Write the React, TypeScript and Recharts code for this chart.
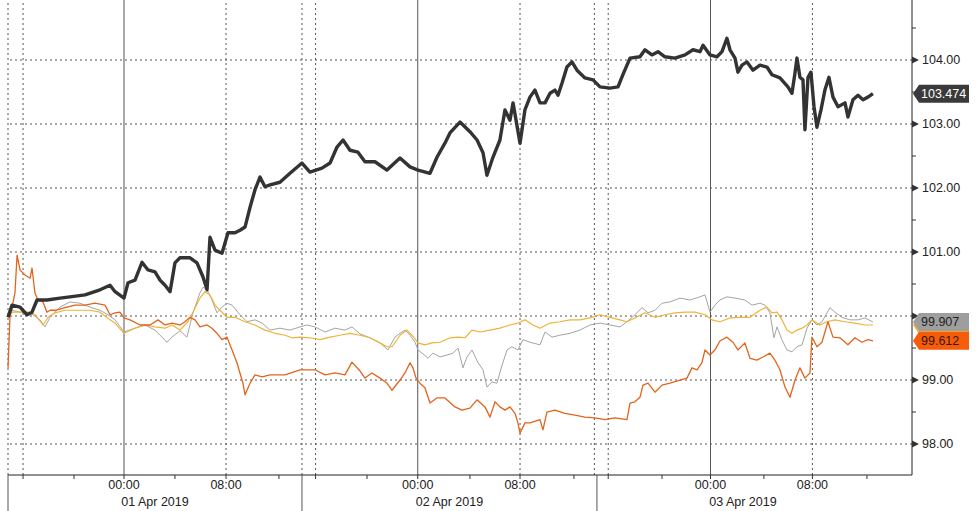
import React from 'react';
import { LineChart, Line, XAxis, YAxis, ReferenceLine } from 'recharts';

// x = session time in hours from 00:00 on 01 Apr 2019 (tick-time axis, spacing is a bit uneven)
const blackHours = [
  -9.47, -9.14, -8.49, -7.92, -7.51, -7.1, -6.29, -5.22, -4.41, -3.18,
  -1.96, -1.14, -0.73, 0, 0.33, 0.9, 1.47, 1.96, 2.53, 2.94,
  3.35, 3.76, 4.16, 4.57, 5.39, 5.96, 6.45, 6.78, 7.02, 7.43,
  8.0, 8.49, 9.06, 9.47, 9.88, 10.29, 10.69, 11.1, 11.51, 11.92,
  12.73, 13.55, 14.53, 15.18, 16.16, 16.82, 17.39, 17.88, 18.45, 19.1,
  19.67, 20.49, 21.47, 22.53, 23.35, 24.0, 24.98, 25.55, 26.2, 26.61,
  27.43, 28.24, 28.82, 29.31, 29.63, 30.12, 30.69, 31.1, 31.51, 31.76,
  32.33, 32.73, 33.14, 33.55, 33.96, 34.37, 34.78, 35.18, 35.43, 35.76,
  36.16, 36.57, 36.98, 37.63, 38.29, 38.86, 39.67, 40.33, 40.73, 41.31,
  42.12, 42.53, 43.1, 43.59, 44.16, 44.98, 45.8, 46.45, 47.02, 47.27,
  47.84, 48.41, 48.82, 49.22, 49.47, 49.88, 50.12, 50.45, 50.86, 51.35,
  51.92, 52.49, 52.9, 53.55, 54.2, 54.53, 54.78, 54.94, 55.18, 55.43,
  55.59, 55.84, 56.08, 56.33, 56.57, 56.9, 57.22, 57.55, 57.88, 58.29,
  58.86, 59.1, 59.51, 59.92, 60.33, 60.73, 61.14,
];
const blackValues = [
  99.98, 100.17, 100.14, 100.02, 100.06, 100.25, 100.25, 100.28, 100.3, 100.33,
  100.41, 100.48, 100.38, 100.28, 100.52, 100.56, 100.84, 100.72, 100.69, 100.56,
  100.48, 100.38, 100.83, 100.91, 100.91, 100.83, 100.61, 100.41, 101.23, 101.03,
  100.98, 101.3, 101.3, 101.34, 101.39, 101.7, 101.97, 102.17, 102.02, 102.05,
  102.09, 102.23, 102.39, 102.25, 102.31, 102.39, 102.64, 102.75, 102.59, 102.56,
  102.41, 102.41, 102.28, 102.47, 102.33, 102.28, 102.23, 102.48, 102.7, 102.86,
  103.03, 102.88, 102.75, 102.55, 102.2, 102.48, 102.75, 103.22, 103.06, 103.33,
  102.7, 103.22, 103.42, 103.53, 103.33, 103.33, 103.48, 103.53, 103.45, 103.64,
  103.89, 103.97, 103.84, 103.72, 103.69, 103.58, 103.56, 103.58, 103.77, 104.03,
  104.05, 104.16, 104.08, 104.13, 104.05, 104.03, 104.08, 104.16, 104.13, 104.23,
  104.08, 104.05, 104.13, 104.34, 104.16, 104.03, 103.81, 103.92, 103.97, 103.84,
  103.92, 103.89, 103.77, 103.72, 103.58, 103.48, 103.8, 104.03, 103.73, 103.69,
  102.91, 103.73, 103.81, 103.27, 102.95, 103.22, 103.53, 103.73, 103.42, 103.27,
  103.33, 103.11, 103.38, 103.45, 103.38, 103.42, 103.474,
];

const orangeHours = [
  -9.47, -9.31, -8.9, -8.73, -8.49, -8.08, -7.67, -7.51, -7.27, -7.02,
  -6.61, -6.29, -6.04, -5.63, -4.82, -4.0, -3.18, -2.37, -1.55, -1.14,
  -0.73, -0.33, 0, 0.49, 1.31, 2.12, 2.78, 3.35, 3.92, 4.57,
  4.98, 5.39, 5.8, 6.2, 6.78, 7.18, 7.59, 8.0, 8.41, 8.82,
  9.22, 9.71, 9.88, 10.29, 10.69, 11.27, 11.92, 13.14, 14.37, 15.59,
  16.41, 17.22, 18.04, 18.61, 19.27, 19.67, 20.24, 20.9, 21.47, 21.88,
  22.53, 22.94, 23.35, 23.59, 23.84, 24.16, 24.57, 24.98, 25.55, 26.2,
  27.02, 27.59, 28.24, 28.82, 29.47, 29.88, 30.29, 30.69, 31.1, 31.51,
  31.92, 32.16, 32.33, 32.73, 33.14, 33.96, 34.2, 34.53, 35.18, 36.0,
  36.82, 37.63, 38.45, 39.27, 40.08, 41.06, 41.31, 41.71, 42.12, 42.37,
  42.78, 43.35, 43.92, 44.57, 45.39, 45.96, 46.37, 46.78, 47.18, 47.43,
  47.84, 48.24, 48.65, 49.22, 49.71, 50.12, 50.69, 51.1, 51.67, 52.16,
  52.73, 53.14, 53.55, 53.96, 54.37, 54.78, 55.18, 55.59, 56.0, 56.16,
  56.57, 56.98, 57.47, 57.88, 58.45, 59.1, 59.67, 60.24, 60.73, 61.14,
];
const orangeValues = [
  99.19, 99.98, 100.36, 100.95, 100.72, 100.64, 100.59, 100.75, 100.36, 100.25,
  100.22, 100.06, 100.09, 100.09, 100.13, 100.17, 100.17, 100.2, 100.17, 100.02,
  100.05, 100.06, 99.97, 99.94, 99.86, 99.86, 99.94, 99.86, 99.89, 99.86,
  99.91, 99.98, 99.94, 99.83, 99.86, 99.81, 99.73, 99.63, 99.67, 99.47,
  99.27, 98.95, 98.77, 98.95, 99.08, 99.05, 99.08, 99.08, 99.16, 99.16,
  99.08, 99.11, 99.08, 99.28, 99.14, 99.03, 99.11, 99.03, 98.95, 98.84,
  99.0, 99.11, 99.27, 99.19, 99.03, 98.95, 98.88, 98.64, 98.72, 98.72,
  98.58, 98.53, 98.56, 98.69, 98.58, 98.42, 98.66, 98.58, 98.53, 98.58,
  98.48, 98.33, 98.17, 98.33, 98.33, 98.38, 98.22, 98.5, 98.53, 98.48,
  98.45, 98.42, 98.41, 98.38, 98.41, 98.38, 98.64, 98.66, 98.73, 98.92,
  98.95, 98.81, 98.92, 98.95, 99.0, 99.03, 99.19, 99.16, 99.27, 99.47,
  99.39, 99.47, 99.61, 99.67, 99.59, 99.47, 99.58, 99.34, 99.31, 99.36,
  99.42, 99.31, 99.16, 98.89, 98.73, 99.0, 99.19, 99.03, 99.11, 99.67,
  99.52, 99.59, 99.91, 99.67, 99.66, 99.55, 99.66, 99.59, 99.63, 99.612,
];

const grayHours = [
  -9.47, -9.14, -8.49, -7.67, -6.86, -6.45, -6.04, -5.22, -4.41, -3.59,
  -2.78, -1.96, -1.31, -0.73, 0, 0.9, 1.71, 2.53, 3.1, 3.51,
  3.92, 4.57, 5.14, 5.63, 6.2, 6.45, 6.78, 7.18, 7.59, 8.0,
  8.41, 8.82, 9.47, 10.04, 10.69, 11.27, 11.92, 12.73, 13.55, 14.37,
  14.94, 15.59, 16.41, 17.22, 18.04, 18.61, 19.27, 20.08, 20.9, 21.55,
  22.12, 22.53, 22.94, 23.35, 23.76, 24.0, 24.33, 24.82, 25.22, 25.8,
  26.37, 26.86, 27.27, 27.67, 28.0, 28.41, 28.9, 29.31, 29.63, 30.04,
  30.45, 30.86, 31.27, 31.67, 32.16, 32.57, 33.14, 33.96, 34.37, 34.94,
  35.59, 36.41, 37.22, 38.04, 38.86, 39.67, 40.49, 41.06, 41.71, 42.29,
  42.78, 43.35, 43.92, 44.57, 45.39, 46.2, 47.02, 47.43, 47.84, 48.24,
  48.65, 49.22, 49.88, 50.69, 51.27, 51.92, 52.33, 52.73, 53.06, 53.31,
  53.71, 54.12, 54.53, 54.94, 55.35, 55.76, 56.16, 56.57, 56.98, 57.63,
  58.04, 58.61, 59.27, 59.92, 60.49, 61.14,
];
const grayValues = [
  99.98, 100.09, 100.06, 100.05, 99.94, 99.83, 99.98, 100.14, 100.22, 100.2,
  100.14, 100.09, 100.02, 99.94, 99.75, 99.81, 99.86, 99.78, 99.67, 99.59,
  99.67, 99.77, 99.67, 100.05, 100.36, 100.45, 100.41, 100.25, 100.05, 100.14,
  100.2, 100.17, 100.02, 99.91, 99.94, 99.89, 99.78, 99.81, 99.78, 99.83,
  99.86, 99.83, 99.75, 99.81, 99.78, 99.83, 99.72, 99.66, 99.58, 99.47,
  99.67, 99.73, 99.78, 99.7, 99.59, 99.47, 99.42, 99.34, 99.42, 99.36,
  99.39, 99.42, 99.5, 99.19, 99.36, 99.47, 99.27, 99.16, 98.89, 98.97,
  98.95, 99.23, 99.47, 99.52, 99.47, 99.63, 99.59, 99.55, 99.75, 99.67,
  99.7, 99.73, 99.78, 99.86, 99.89, 99.86, 99.83, 99.91, 100.02, 100.13,
  100.05, 100.09, 100.2, 100.22, 100.28, 100.25, 100.3, 100.33, 100.06, 100.17,
  100.25, 100.3, 100.28, 100.25, 100.17, 100.2, 100.17, 100.05, 99.66, 99.83,
  99.63, 99.47, 99.44, 99.52, 99.55, 99.81, 99.94, 99.86, 99.91, 100.13,
  100.06, 99.98, 99.94, 99.94, 99.97, 99.907,
];

const yellowHours = [
  -9.47, -9.14, -8.49, -7.67, -7.27, -6.61, -6.2, -5.63, -4.82, -3.59,
  -2.78, -1.96, -1.14, -0.73, 0, 0.9, 1.71, 2.53, 3.35, 3.92,
  4.57, 5.22, 5.63, 6.2, 6.61, 7.02, 7.43, 7.84, 8.41, 9.06,
  9.88, 10.69, 11.51, 12.33, 13.14, 13.71, 14.37, 15.18, 16.0, 16.82,
  17.63, 18.45, 19.27, 20.08, 20.9, 21.47, 21.88, 22.53, 23.1, 23.51,
  24.0, 24.57, 25.14, 25.8, 26.61, 27.27, 27.84, 28.41, 29.06, 29.88,
  30.69, 31.51, 32.16, 32.73, 33.39, 33.96, 34.78, 35.59, 36.41, 37.22,
  38.04, 38.86, 39.67, 40.49, 41.06, 41.71, 42.53, 43.35, 44.16, 44.98,
  45.8, 46.61, 47.43, 48.0, 48.65, 49.47, 50.29, 51.1, 51.92, 52.49,
  52.9, 53.31, 53.71, 54.12, 54.53, 54.94, 55.35, 55.76, 56.16, 56.82,
  57.39, 58.04, 58.86, 59.67, 60.49, 61.14,
];
const yellowValues = [
  99.98, 100.06, 100.06, 100.06, 100.02, 99.86, 99.98, 100.05, 100.09, 100.09,
  100.09, 100.06, 99.94, 99.89, 99.73, 99.81, 99.86, 99.83, 99.81, 99.86,
  99.78, 99.91, 100.06, 100.28, 100.38, 100.33, 100.17, 100.09, 99.98, 99.98,
  99.91, 99.86, 99.78, 99.73, 99.7, 99.66, 99.67, 99.66, 99.63, 99.67,
  99.7, 99.73, 99.7, 99.66, 99.58, 99.52, 99.52, 99.7, 99.78, 99.7,
  99.58, 99.55, 99.58, 99.59, 99.66, 99.67, 99.66, 99.78, 99.75, 99.78,
  99.81, 99.86, 99.89, 99.94, 99.86, 99.81, 99.89, 99.91, 99.94, 99.94,
  99.97, 100.02, 99.98, 99.94, 99.91, 99.97, 100.05, 99.98, 100.02, 100.05,
  100.06, 100.06, 100.02, 99.94, 99.91, 99.97, 99.98, 99.98, 100.09, 100.14,
  100.05, 100.06, 99.94, 99.78, 99.73, 99.78, 99.81, 99.86, 99.94, 99.86,
  99.91, 99.94, 99.91, 99.89, 99.86, 99.86,
];

// axis furniture
const hourTicks = [-8.24, -4.08, 0, 4.16, 8.33, 12.65, 15.64, 19.84, 23.98, 28.24, 32.33, 36.73, 39.53, 43.92, 47.88, 52.24, 56.2, 60.65];
const timeLabelHours = [0, 8.33, 23.98, 32.33, 47.88, 56.2];
const timeLabels = ['00:00', '08:00', '00:00', '08:00', '00:00', '08:00'];
const dayBreakHours = [-9.47, 14.53, 38.61];
const dayLabelHours = [2.53, 26.57, 50.53];
const dayLabels = ['01 Apr 2019', '02 Apr 2019', '03 Apr 2019'];
const midnightHours = [0, 23.98, 47.88];
const dottedHours = [-9.47, -8.24, 8.33, 14.53, 15.64, 32.33, 38.4, 39.53, 56.2];
const priceLevels = [98, 99, 100, 101, 102, 103, 104];
const halfLevels = [98.5, 99.5, 100.5, 101.5, 102.5, 103.5, 104.5];

const FONT = '"Liberation Sans", Arial, sans-serif';

const series = [
  { key: 'gray', hours: grayHours, values: grayValues, color: '#a4a4a4', width: 1, tag: '#9e9e9e', text: '#222', showTag: true },
  { key: 'yellow', hours: yellowHours, values: yellowValues, color: '#efb338', width: 1.2, tag: '#f0b43a', text: '#222', showTag: false },
  { key: 'orange', hours: orangeHours, values: orangeValues, color: '#e2641d', width: 1.3, tag: '#f55d0a', text: '#3a1300', showTag: true },
  { key: 'black', hours: blackHours, values: blackValues, color: '#333333', width: 3.4, tag: '#3a3a3a', text: '#ffffff', showTag: true },
];

const rowMap = new Map<number, any>();
series.forEach((s) => {
  s.hours.forEach((h, i) => {
    const row = rowMap.get(h) ?? { t: h };
    row[s.key] = s.values[i];
    rowMap.set(h, row);
  });
});
const data = Array.from(rowMap.values()).sort((a, b) => a.t - b.t);

// last-value tags, drawn in this order so gray covers yellow
const tagOrder = ['yellow', 'gray', 'orange', 'black'].map((k) => series.find((s) => s.key === k)!);
const tagValues = tagOrder.map((s) => s.values[s.values.length - 1]);

const xTicks = Array.from(new Set([...hourTicks, ...dayBreakHours, ...dayLabelHours])).sort((a, b) => a - b);
const yTicks = [...halfLevels, ...priceLevels, ...tagValues];

function TimeTick(props: any) {
  const { x, y, payload } = props;
  const v = payload.value;
  const li = timeLabelHours.indexOf(v);
  const di = dayLabelHours.indexOf(v);
  return (
    <g>
      {hourTicks.includes(v) && <line x1={x} y1={y} x2={x} y2={y + 4} stroke="#333" />}
      {dayBreakHours.includes(v) && <line x1={x} y1={y} x2={x} y2={y + 36} stroke="#555" />}
      {li >= 0 && (
        <text x={x} y={y + 10} textAnchor="middle" dominantBaseline="central" fontSize={12.5} fill="#222" fontFamily={FONT}>
          {timeLabels[li]}
        </text>
      )}
      {di >= 0 && (
        <text x={x} y={y + 27} textAnchor="middle" dominantBaseline="central" fontSize={12.5} fill="#222" fontFamily={FONT}>
          {dayLabels[di]}
        </text>
      )}
    </g>
  );
}

function PriceTick(props: any) {
  const { x, y, payload } = props;
  const v = payload.value;
  const ti = tagValues.indexOf(v);
  if (ti >= 0) {
    const s = tagOrder[ti];
    const h = 9;
    return (
      <g>
        <polygon points={`${x + 1},${y} ${x + 7},${y - h} ${x + 57},${y - h} ${x + 57},${y + h} ${x + 7},${y + h}`} fill={s.tag} />
        {s.showTag && (
          <text x={x + 9} y={y} dominantBaseline="central" fontSize={12.5} fill={s.text} fontFamily={FONT}>
            {v.toFixed(3)}
          </text>
        )}
      </g>
    );
  }
  if (priceLevels.includes(v)) {
    // a level label sitting under a last-value tag is hidden, as in the source chart
    const covered = tagOrder.some((s, i) => s.showTag && Math.abs(tagValues[i] - v) < 0.15);
    return (
      <g>
        <polygon points={`${x},${y - 3.5} ${x + 7},${y} ${x},${y + 3.5}`} fill="#333" />
        {!covered && (
          <text x={x + 10} y={y} dominantBaseline="central" fontSize={12.5} fill="#222" fontFamily={FONT}>
            {v.toFixed(2)}
          </text>
        )}
      </g>
    );
  }
  return <line x1={x} y1={y} x2={x + 4} y2={y} stroke="#333" />;
}

export default function App() {
  return (
    <div style={{ position: 'absolute', left: 0, top: 0, width: 976, height: 511, background: '#fff' }}>
      <LineChart width={976} height={511} data={data} margin={{ top: 0, right: 0, bottom: 0, left: 8 }}>
        {priceLevels.map((p) => (
          <ReferenceLine key={`h${p}`} y={p} stroke="#555" strokeDasharray="2 3" />
        ))}
        {dottedHours.map((h) => (
          <ReferenceLine key={`d${h}`} x={h} stroke="#555" strokeDasharray="2 3" />
        ))}
        {midnightHours.map((h) => (
          <ReferenceLine key={`m${h}`} x={h} stroke="#555" />
        ))}
        <XAxis
          dataKey="t"
          type="number"
          domain={[-9.47, 64.33]}
          ticks={xTicks}
          interval={0}
          height={36}
          tickSize={0}
          tickMargin={0}
          tickLine={false}
          axisLine={{ stroke: '#222' }}
          tick={<TimeTick />}
        />
        <YAxis
          orientation="right"
          type="number"
          domain={[97.516, 104.9375]}
          ticks={yTicks}
          interval={0}
          width={64}
          tickSize={0}
          tickMargin={0}
          tickLine={false}
          axisLine={{ stroke: '#222' }}
          tick={<PriceTick />}
        />
        {series.map((s) => (
          <Line
            key={s.key}
            dataKey={s.key}
            type="linear"
            stroke={s.color}
            strokeWidth={s.width}
            strokeLinejoin="round"
            dot={false}
            activeDot={false}
            connectNulls
            isAnimationActive={false}
          />
        ))}
      </LineChart>
    </div>
  );
}
